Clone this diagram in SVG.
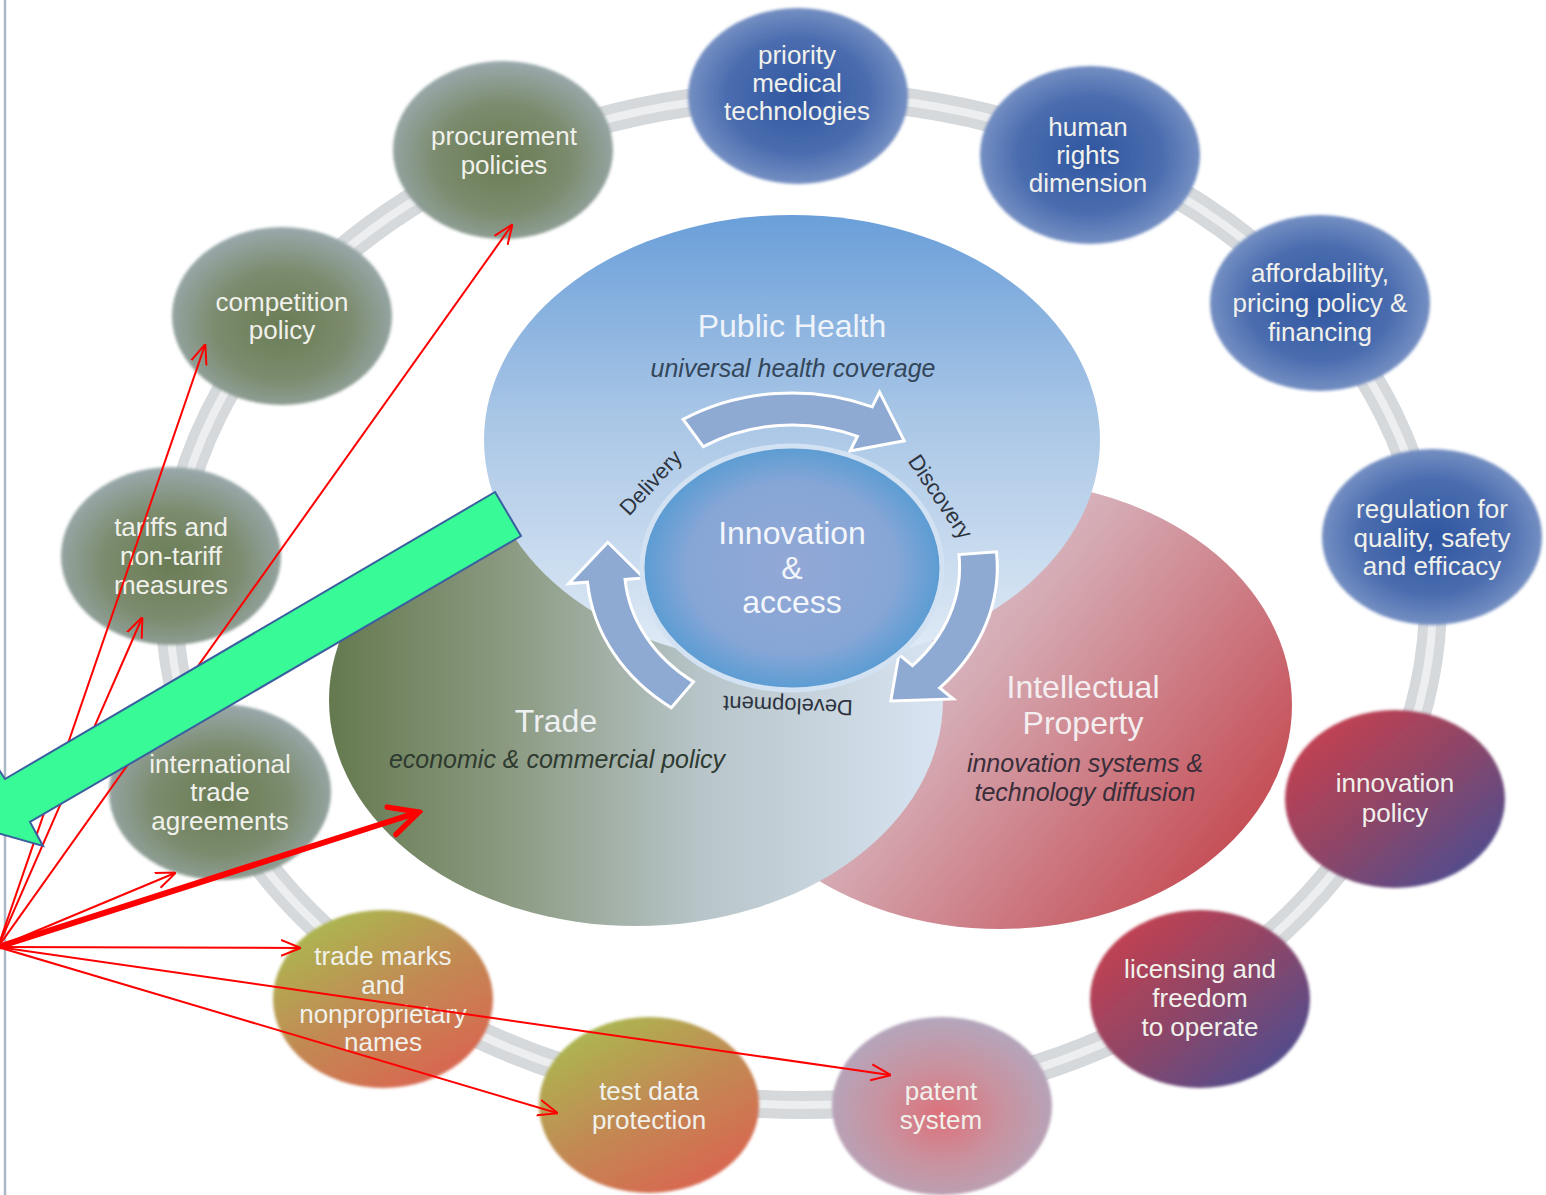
<svg xmlns="http://www.w3.org/2000/svg" width="1546" height="1195" viewBox="0 0 1546 1195">
<defs>
<style>
.nt{font-family:"Liberation Sans",Arial,sans-serif;font-size:26px;fill:#f1f1ec;text-anchor:middle}
.big{font-family:"Liberation Sans",Arial,sans-serif;font-size:32px;text-anchor:middle}
.sub{font-family:"Liberation Sans",Arial,sans-serif;font-size:25px;font-style:italic;text-anchor:middle}
.cyc{font-family:"Liberation Sans",Arial,sans-serif;font-size:22px;fill:#2d3440;text-anchor:middle}
.cn{fill:none;stroke:#ff0000;stroke-width:2}
.carr{fill:#8ea9d2;stroke:#ffffff;stroke-width:3;vector-effect:non-scaling-stroke}
</style>
<filter id="soft" x="-10%" y="-10%" width="120%" height="120%"><feGaussianBlur stdDeviation="1.6"/></filter>
<radialGradient id="gGreen" cx="0.5" cy="0.55" r="0.55"><stop offset="0" stop-color="#6a7c55"/><stop offset="0.55" stop-color="#7b8b6d"/><stop offset="1" stop-color="#9aa9ac"/></radialGradient>
<radialGradient id="gBlue" cx="0.5" cy="0.5" r="0.55"><stop offset="0" stop-color="#2f56a0"/><stop offset="0.6" stop-color="#4b6daf"/><stop offset="1" stop-color="#8099c8"/></radialGradient>
<linearGradient id="gRed" x1="0" y1="0" x2="1" y2="1"><stop offset="0" stop-color="#d4404a"/><stop offset="0.5" stop-color="#8e4567"/><stop offset="1" stop-color="#3d509a"/></linearGradient>
<linearGradient id="gOlive" x1="0.15" y1="0" x2="0.85" y2="1"><stop offset="0" stop-color="#a8bd50"/><stop offset="0.5" stop-color="#c28a52"/><stop offset="1" stop-color="#dc6050"/></linearGradient>
<radialGradient id="gPatent" cx="0.5" cy="0.55" r="0.55"><stop offset="0" stop-color="#dc707a"/><stop offset="0.5" stop-color="#c9929f"/><stop offset="1" stop-color="#b3a6bc"/></radialGradient>
<linearGradient id="gPH" x1="0" y1="0" x2="0" y2="1"><stop offset="0" stop-color="#6a9fd9"/><stop offset="0.45" stop-color="#a9c6e6"/><stop offset="1" stop-color="#e2ecf6"/></linearGradient>
<linearGradient id="gTrade" x1="0" y1="0" x2="1" y2="0"><stop offset="0" stop-color="#65794f"/><stop offset="0.3" stop-color="#8c9b82"/><stop offset="0.6" stop-color="#b7c4c8"/><stop offset="1" stop-color="#d8e4f2"/></linearGradient>
<linearGradient id="gIP" x1="0" y1="0.2" x2="1" y2="0.8"><stop offset="0" stop-color="#e2e6f0"/><stop offset="0.45" stop-color="#d5aab3"/><stop offset="1" stop-color="#c3424a"/></linearGradient>
<radialGradient id="gCore" cx="0.5" cy="0.5" r="0.5"><stop offset="0" stop-color="#93a8d6"/><stop offset="0.7" stop-color="#86a6d6"/><stop offset="1" stop-color="#5a9cd3"/></radialGradient>
<marker id="ah" viewBox="0 0 10 10" refX="9.5" refY="5" markerWidth="10" markerHeight="10" orient="auto" markerUnits="strokeWidth"><path d="M0,1 L10,5 L0,9" fill="none" stroke="#ff0000" stroke-width="1"/></marker>
<marker id="ahT" viewBox="0 0 10 10" refX="9" refY="5" markerWidth="6" markerHeight="6" orient="auto" markerUnits="strokeWidth"><path d="M1,1 L9,5 L1,9" fill="none" stroke="#ff0000" stroke-width="1.5" stroke-linecap="round"/></marker>
</defs>
<rect width="1546" height="1195" fill="#ffffff"/>
<line x1="5" y1="0" x2="5" y2="1195" stroke="#aab9c6" stroke-width="2.5"/>
<g id="ring">
<ellipse cx="801" cy="600" rx="632" ry="505" fill="none" stroke="#d6d9dc" stroke-width="28"/>
<ellipse cx="801" cy="600" rx="632" ry="505" fill="none" stroke="#eceeef" stroke-width="8"/>
</g>
<g id="ip"><ellipse cx="1000" cy="705" rx="292" ry="224" fill="url(#gIP)"/></g>
<g id="trade"><ellipse cx="636" cy="700" rx="307" ry="226" fill="url(#gTrade)"/></g>
<g id="publichealth"><ellipse cx="792" cy="440" rx="308" ry="225" fill="url(#gPH)"/></g>
<g id="labels-big">
<text class="big" x="792" y="337" fill="#eef3fa">Public Health</text>
<text class="sub" x="793" y="377" fill="#34465a">universal health coverage</text>
<text class="big" x="556" y="732" fill="#eef0f2">Trade</text>
<text class="sub" x="557" y="768" fill="#2e3a30">economic &amp; commercial policy</text>
<text class="big" x="1083" y="698" fill="#f4eef0">Intellectual</text>
<text class="big" x="1083" y="734" fill="#f4eef0">Property</text>
<text class="sub" x="1085" y="772" fill="#3a2e3a">innovation systems &amp;</text>
<text class="sub" x="1085" y="801" fill="#3a2e3a">technology diffusion</text>
</g>
<g id="cycle">
<g transform="translate(792,567) scale(1.18,1)">
<path class="carr" d="M -92.2 -147.6 A 174 174 0 0 1 68.0 -160.2 L 74.2 -174.9 L 95.1 -126.2 L 49.2 -116.0 L 55.5 -130.7 A 142 142 0 0 0 -75.2 -120.4 Z"/>
<path class="carr" d="M 173.3 -15.2 A 174 174 0 0 1 125.2 120.9 L 136.7 132.0 L 83.7 134.0 L 90.6 87.5 L 102.1 98.6 A 142 142 0 0 0 141.5 -12.4 Z"/>
<path class="carr" d="M -102.3 140.8 A 174 174 0 0 1 -173.3 15.2 L -189.3 16.6 L -156.1 -24.7 L -125.5 11.0 L -141.5 12.4 A 142 142 0 0 0 -83.5 114.9 Z"/>
</g>
<text class="cyc" transform="translate(651,483) rotate(-47)" y="7">Delivery</text>
<text class="cyc" transform="translate(940,497) rotate(56)" y="7">Discovery</text>
<text class="cyc" transform="translate(788,705) rotate(182)" y="7">Development</text>
</g>
<g id="core">
<ellipse cx="792" cy="568" rx="150" ry="122" fill="url(#gCore)" stroke="#d2e2f2" stroke-width="5"/>
<text class="big" x="792" y="544" fill="#f3f6fb">Innovation</text>
<text class="big" x="792" y="579" fill="#f3f6fb">&amp;</text>
<text class="big" x="792" y="613" fill="#f3f6fb">access</text>
</g>
<g id="n-procurement"><ellipse cx="503" cy="150" rx="110" ry="89" fill="url(#gGreen)" filter="url(#soft)"/><text class="nt" x="504" y="145">procurement</text><text class="nt" x="504" y="174">policies</text></g>
<g id="n-priority"><ellipse cx="798" cy="96" rx="110" ry="88" fill="url(#gBlue)" filter="url(#soft)"/><text class="nt" x="797" y="64">priority</text><text class="nt" x="797" y="92">medical</text><text class="nt" x="797" y="120">technologies</text></g>
<g id="n-human"><ellipse cx="1090" cy="155" rx="110" ry="89" fill="url(#gBlue)" filter="url(#soft)"/><text class="nt" x="1088" y="136">human</text><text class="nt" x="1088" y="164">rights</text><text class="nt" x="1088" y="192">dimension</text></g>
<g id="n-afford"><ellipse cx="1320" cy="303" rx="110" ry="88" fill="url(#gBlue)" filter="url(#soft)"/><text class="nt" x="1320" y="282">affordability,</text><text class="nt" x="1320" y="312">pricing policy &amp;</text><text class="nt" x="1320" y="341">financing</text></g>
<g id="n-regulation"><ellipse cx="1432" cy="537" rx="110" ry="88" fill="url(#gBlue)" filter="url(#soft)"/><text class="nt" x="1432" y="518">regulation for</text><text class="nt" x="1432" y="547">quality, safety</text><text class="nt" x="1432" y="575">and efficacy</text></g>
<g id="n-innovation"><ellipse cx="1395" cy="799" rx="110" ry="89" fill="url(#gRed)" filter="url(#soft)"/><text class="nt" x="1395" y="792">innovation</text><text class="nt" x="1395" y="822">policy</text></g>
<g id="n-licensing"><ellipse cx="1200" cy="999" rx="110" ry="89" fill="url(#gRed)" filter="url(#soft)"/><text class="nt" x="1200" y="978">licensing and</text><text class="nt" x="1200" y="1007">freedom</text><text class="nt" x="1200" y="1036">to operate</text></g>
<g id="n-patent"><ellipse cx="942" cy="1106" rx="110" ry="89" fill="url(#gPatent)" filter="url(#soft)"/><text class="nt" x="941" y="1100">patent</text><text class="nt" x="941" y="1129">system</text></g>
<g id="n-testdata"><ellipse cx="649" cy="1105" rx="110" ry="88" fill="url(#gOlive)" filter="url(#soft)"/><text class="nt" x="649" y="1100">test data</text><text class="nt" x="649" y="1129">protection</text></g>
<g id="n-trademarks"><ellipse cx="383" cy="999" rx="110" ry="89" fill="url(#gOlive)" filter="url(#soft)"/><text class="nt" x="383" y="965">trade marks</text><text class="nt" x="383" y="994">and</text><text class="nt" x="383" y="1023">nonproprietary</text><text class="nt" x="383" y="1051">names</text></g>
<g id="n-intl"><ellipse cx="220" cy="792" rx="111" ry="88" fill="url(#gGreen)" filter="url(#soft)"/><text class="nt" x="220" y="773">international</text><text class="nt" x="220" y="801">trade</text><text class="nt" x="220" y="830">agreements</text></g>
<g id="n-tariffs"><ellipse cx="171" cy="556" rx="110" ry="89" fill="url(#gGreen)" filter="url(#soft)"/><text class="nt" x="171" y="536">tariffs and</text><text class="nt" x="171" y="565">non-tariff</text><text class="nt" x="171" y="594">measures</text></g>
<g id="n-competition"><ellipse cx="282" cy="316" rx="110" ry="89" fill="url(#gGreen)" filter="url(#soft)"/><text class="nt" x="282" y="311">competition</text><text class="nt" x="282" y="339">policy</text></g>
<g id="connectors">
<line class="cn" x1="-2" y1="947" x2="205" y2="345" marker-end="url(#ah)"/>
<line class="cn" x1="-2" y1="947" x2="512" y2="225" marker-end="url(#ah)"/>
<line class="cn" x1="-2" y1="947" x2="142" y2="618" marker-end="url(#ah)"/>
<line class="cn" x1="-2" y1="947" x2="175" y2="873" marker-end="url(#ah)"/>
<line x1="-2" y1="947" x2="419" y2="812" fill="none" stroke="#ff0000" stroke-width="6" marker-end="url(#ahT)"/>
<line class="cn" x1="-2" y1="947" x2="300" y2="948" marker-end="url(#ah)"/>
<line class="cn" x1="-2" y1="947" x2="890" y2="1075" marker-end="url(#ah)"/>
<line class="cn" x1="-2" y1="947" x2="557" y2="1113" marker-end="url(#ah)"/>
</g>
<g id="green-arrow">
<polygon points="495,492 521,536 30,822 43,846 -27,826 -10,756 5,779" fill="#38fb98" stroke="#3a5f9e" stroke-width="2" stroke-linejoin="miter"/>
</g>
</svg>
